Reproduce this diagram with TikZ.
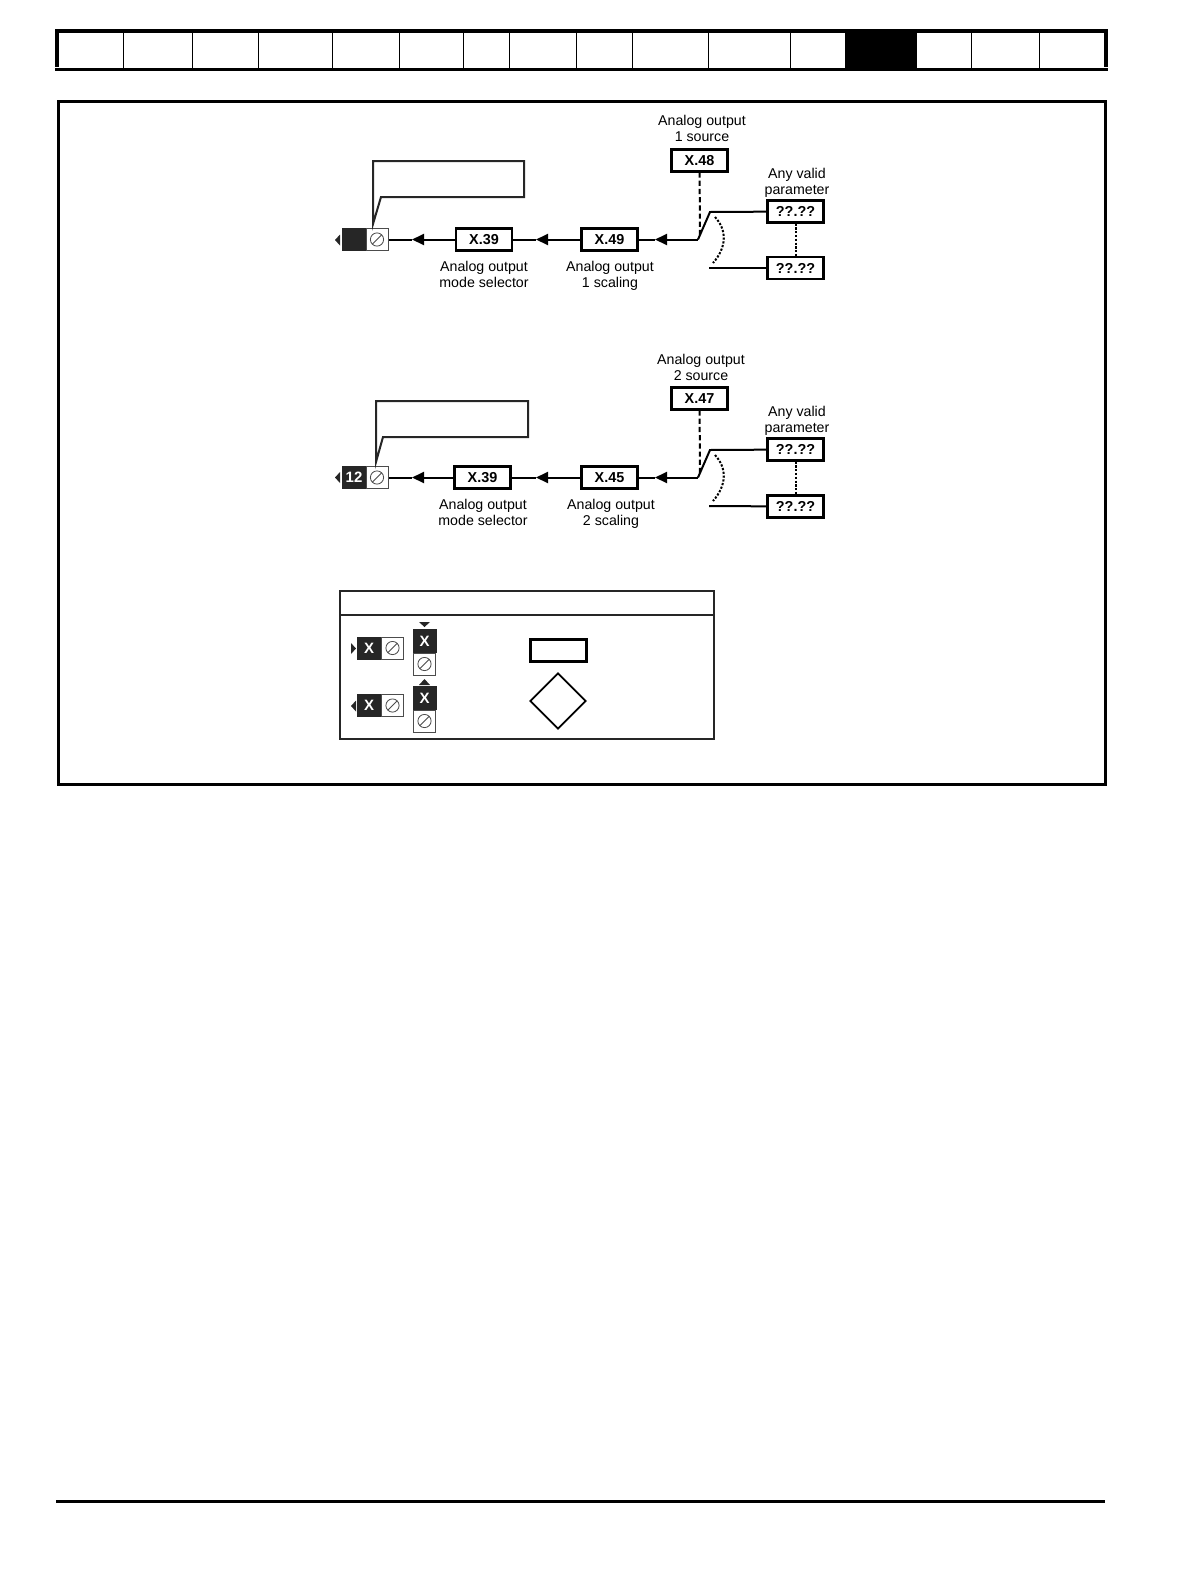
\documentclass[tikz,border=0pt]{standalone}
\usepackage{fontspec}
\setmainfont{Liberation Sans}
\usetikzlibrary{arrows.meta,shapes.geometric}
\tikzset{
    parbox/.style={draw, line width=1.02pt, fill=white, minimum width=28pt, minimum height=11pt, inner sep=0pt, font={\fontsize{7.2}{8}\selectfont\bfseries}},
    caption/.style={align=center, inner sep=0pt, font={\fontsize{7.1}{8}\selectfont}},
    termblack/.style={fill=black!85, draw=black!85, line width=0.4pt, text=white, minimum width=11.5pt, minimum height=11pt, inner sep=0pt, font={\fontsize{7.5}{8}\selectfont\bfseries}},
    termscrew/.style={draw=black!70, line width=0.5pt, fill=white, minimum width=11pt, minimum height=11pt, inner sep=0pt,
        path picture={
            \draw[line width=0.4pt] (path picture bounding box.center) circle[radius=3.3pt];
            \draw[line width=0.4pt] ([shift={(-2.3pt,-2.3pt)}]path picture bounding box.center) -- ([shift={(2.3pt,2.3pt)}]path picture bounding box.center);
        }},
    wire/.style={line width=1pt},
    tipwire/.style={line width=1pt, -{Triangle[length=6pt,width=5.5pt]}},
    finedots/.style={line width=1pt, dash pattern=on 1.1pt off 0.8pt},
    longdash/.style={line width=1pt, dash pattern=on 2.6pt off 1.5pt},
}
\begin{document}
\begin{tikzpicture}[x=0.5pt,y=-0.5pt]
    \useasboundingbox (0,0) rectangle (1190,1580);

    % header
    \foreach \xpos in {123,192,258.5,332,399,463,509.5,576,632,708,790,971,1039} {
        \draw[line width=0.5pt] (\xpos,31) -- (\xpos,69);
    }
    \fill (845,31) rectangle (917,69);
    \fill (55,29) rectangle (1108,32.7);
    \fill (55,29) rectangle (59,66.7);
    \fill (1104,29) rectangle (1108,66.7);
    \fill (55,67.7) rectangle (1108,70.7);

    % frame
    \draw[line width=1.5pt] (58.5,101.5) rectangle (1105.5,784.5);

    % output 1
    \node[caption] (src1txt) at (702,128) {Analog output\\1 source};
    \node[parbox] (x48) at (699.5,160.5) {X.48};
    \node[caption] (any1txt) at (797,183) {Any valid\\parameter};
    \node[parbox] (par1a) at (795.5,211.5) {??.??};
    \node[parbox] (par1b) at (795.5,268) {??.??};
    \node[parbox] (x49) at (609.5,239.5) {X.49};
    \node[parbox] (x39a) at (484,239.5) {X.39};
    \node[caption] (x49txt) at (610,276) {Analog output\\1 scaling};
    \node[caption] (x39atxt) at (484,274) {Analog output\\mode selector};
    \node[termblack, minimum width=12pt] (blk1) at (354,239.5) {};
    \node[termscrew] (scr1) at (377,239.5) {};
    \coordinate (sw1a) at (698,239.5);
    \coordinate (sw1b) at (710,212);
    \coordinate (sw1c) at (709,268);
    \coordinate (tip1a) at (655,239.5);
    \coordinate (tip1b) at (536,239.5);
    \coordinate (tip1c) at (412,239.5);
    \draw[tipwire] (sw1a) -- (tip1a);
    \draw[wire] (tip1a) -- (x49);
    \draw[tipwire] (x49) -- (tip1b);
    \draw[wire] (tip1b) -- (x39a);
    \draw[tipwire] (x39a) -- (tip1c);
    \draw[wire] (tip1c) -- (scr1);
    \draw[wire] (sw1a) -- (sw1b) -- (par1a);
    \draw[wire] (sw1c) -- (par1b);
    \draw[longdash] (x48) -- (700,236);
    \draw[finedots] (par1a) -- (par1b);
    \draw[finedots] (715,217) .. controls (727,230) and (727,247) .. (713,263);
    \draw[wire, draw=black!85] (373,224) -- (373,161) -- (524,161) -- (524,197) -- (381,197) -- cycle;
    \fill[black!85] (340,234.5) -- (335,240) -- (340,245.5) -- cycle;

    % output 2
    \node[caption] (src2txt) at (701,367) {Analog output\\2 source};
    \node[parbox] (x47) at (699.5,398.5) {X.47};
    \node[caption] (any2txt) at (797,421) {Any valid\\parameter};
    \node[parbox] (par2a) at (795.5,449.5) {??.??};
    \node[parbox] (par2b) at (795.5,506.5) {??.??};
    \node[parbox] (x45) at (609.5,477.5) {X.45};
    \node[parbox] (x39b) at (482.5,477.5) {X.39};
    \node[caption] (x45txt) at (611,514) {Analog output\\2 scaling};
    \node[caption] (x39btxt) at (483,512) {Analog output\\mode selector};
    \node[termblack, minimum width=12pt] (blk2) at (354,477.5) {12};
    \node[termscrew] (scr2) at (377,477.5) {};
    \coordinate (sw2a) at (698,477.5);
    \coordinate (sw2b) at (710,450);
    \coordinate (sw2c) at (709,506);
    \coordinate (tip2a) at (655,477.5);
    \coordinate (tip2b) at (536,477.5);
    \coordinate (tip2c) at (412,477.5);
    \draw[tipwire] (sw2a) -- (tip2a);
    \draw[wire] (tip2a) -- (x45);
    \draw[tipwire] (x45) -- (tip2b);
    \draw[wire] (tip2b) -- (x39b);
    \draw[tipwire] (x39b) -- (tip2c);
    \draw[wire] (tip2c) -- (scr2);
    \draw[wire] (sw2a) -- (sw2b) -- (par2a);
    \draw[wire] (sw2c) -- (par2b);
    \draw[longdash] (x47) -- (700,474);
    \draw[finedots] (par2a) -- (par2b);
    \draw[finedots] (715,455) .. controls (727,468) and (727,485) .. (713,501);
    \draw[wire, draw=black!85] (376,462) -- (376,401) -- (528,401) -- (528,437) -- (383,437) -- cycle;
    \fill[black!85] (340,472) -- (335,477.5) -- (340,483) -- cycle;

    % key
    \draw[line width=1pt, draw=black!85] (340,591) rectangle (714,739);
    \draw[line width=1pt, draw=black!85] (340,615) -- (714,615);
    \node[termblack, minimum width=12pt] (keyin) at (369,648) {X};
    \node[termscrew] (keyinscr) at (392.5,648) {};
    \node[termblack, minimum width=12pt] (keyout) at (369,705.5) {X};
    \node[termscrew] (keyoutscr) at (392.5,705.5) {};
    \node[termblack, minimum height=11.5pt] (keydn) at (424.5,641) {X};
    \node[termscrew] (keydnscr) at (424.5,664) {};
    \node[termblack, minimum height=11.5pt] (keyup) at (424.5,698) {X};
    \node[termscrew] (keyupscr) at (424.5,721) {};
    \fill[black!85] (351,643) -- (356,648.5) -- (351,654) -- cycle;
    \fill[black!85] (356,700.5) -- (351,706) -- (356,711.5) -- cycle;
    \fill[black!85] (419,622) -- (430,622) -- (424.5,627) -- cycle;
    \fill[black!85] (419,685) -- (430,685) -- (424.5,679) -- cycle;
    \node[parbox] (keypar) at (558.5,650.5) {};
    \node[diamond, draw, line width=0.85pt, minimum width=28pt, minimum height=28pt, inner sep=0pt] (keydia) at (558,701) {};

    % footer
    \fill (56,1500) rectangle (1105,1503);
\end{tikzpicture}
\end{document}
